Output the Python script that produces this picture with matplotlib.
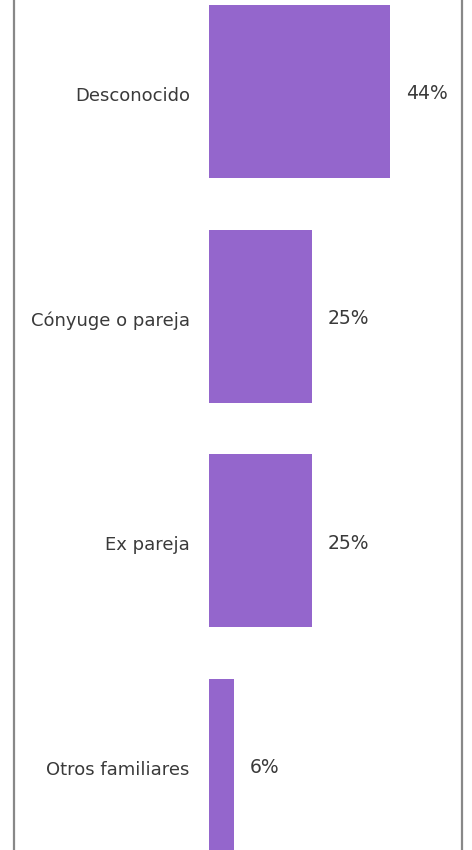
import numpy as np
import matplotlib.pyplot as plt
from matplotlib.lines import Line2D

# data
categories = ['Desconocido', 'Cónyuge o pareja', 'Ex pareja', 'Otros familiares']
values = [44, 25, 25, 6]

bar_color = '#9466cc'
text_color = '#3a3a3a'

fig = plt.figure(figsize=(4.72, 8.5), dpi=100)
ax = fig.add_axes([0, 0, 1, 1])

y = np.arange(len(categories))
ax.barh(y, values, height=0.77, color=bar_color)

# label text left of the bars, values to the right
for i, (cat, v) in enumerate(zip(categories, values)):
    ax.text(-4.6, i + 0.02, cat, ha='right', va='center', fontsize=13,
            color=text_color, family='DejaVu Sans')
    ax.text(v + 3.9, i + 0.01, f'{v}%', ha='left', va='center', fontsize=13.5,
            color=text_color, family='DejaVu Sans')

ax.set_xlim(-50.6, 63.8)
ax.set_ylim(3.376, -0.4073)
ax.axis('off')

# thin grey frame lines at both sides
for xf in (14 / 472, 462 / 472):
    fig.add_artist(Line2D([xf, xf], [0, 1], transform=fig.transFigure,
                          color='#888888', linewidth=1.6))

fig.savefig('out.png', dpi=100)
